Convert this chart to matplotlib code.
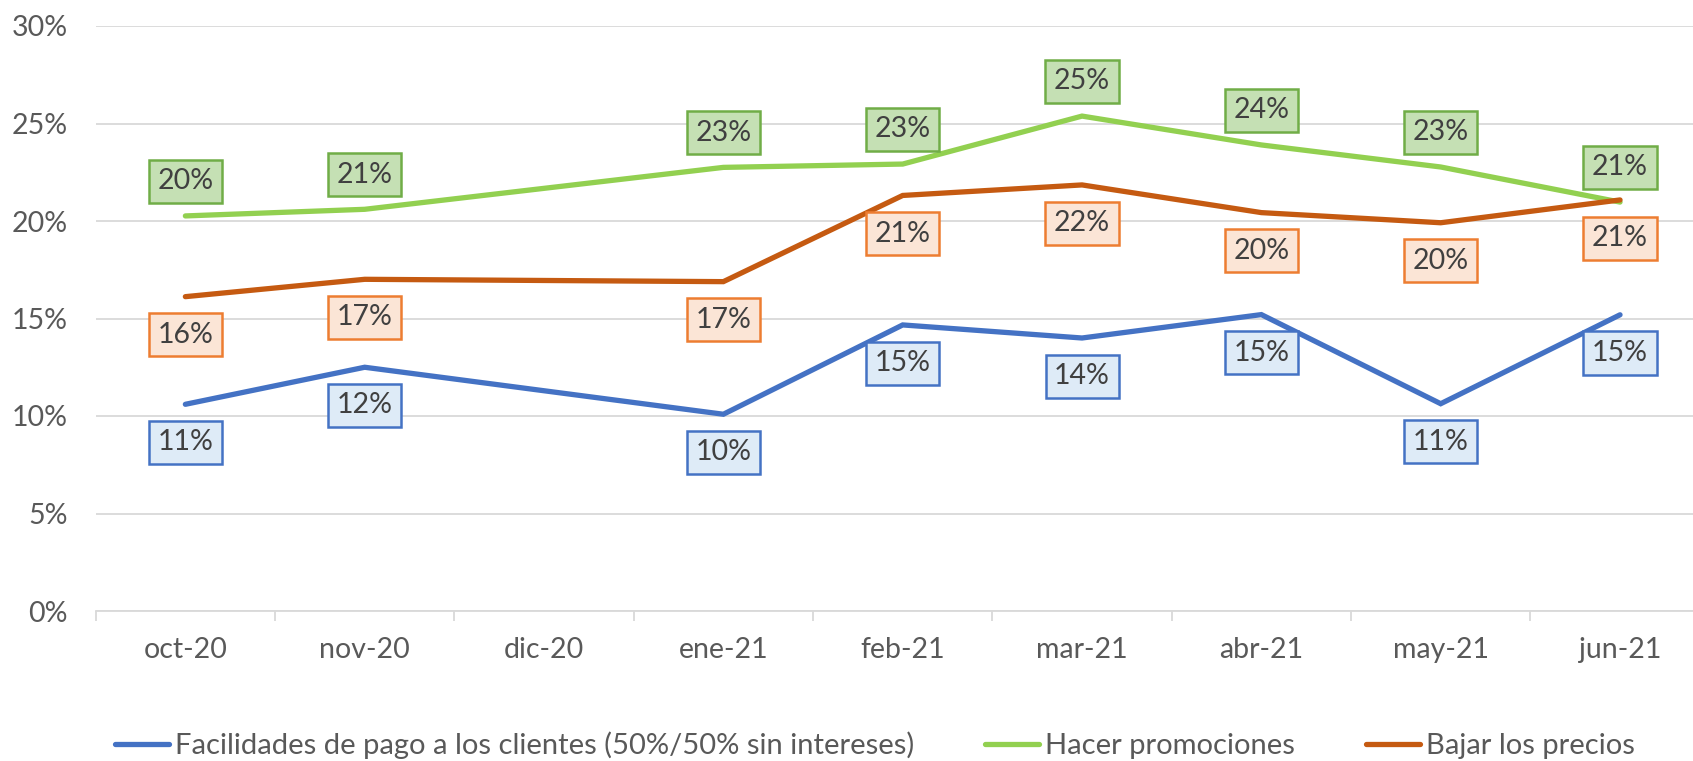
import numpy as np
import matplotlib
matplotlib.use("Agg")
import matplotlib.pyplot as plt
from matplotlib.ticker import FixedLocator, PercentFormatter

plt.rcParams['font.family'] = ['Lato', 'DejaVu Sans']

categories = ["oct-20", "nov-20", "dic-20", "ene-21", "feb-21", "mar-21", "abr-21", "may-21", "jun-21"]
facilidades = [10.6, 12.5, np.nan, 10.09, 14.67, 14.0, 15.2, 10.63, 15.19]
promociones = [20.26, 20.6, np.nan, 22.75, 22.92, 25.38, 23.9, 22.77, 20.97]
bajar_precios = [16.12, 17.01, np.nan, 16.89, 21.31, 21.85, 20.43, 19.91, 21.08]

series_names = ["Facilidades de pago a los clientes (50%/50% sin intereses)",
                "Hacer promociones", "Bajar los precios"]

W, H = 1693, 761
fig = plt.figure(figsize=(W / 100, H / 100), dpi=100)
ax = fig.add_axes([95.7 / W, (H - 611) / H, 1614 / W, 585 / H])

FS = 20.5
line_colors = ["#4472C4", "#92D050", "#C55A11"]
box_fc = ["#DEEBF7", "#C5E0B4", "#FBE5D6"]
box_ec = ["#4472C4", "#70AD47", "#ED7D31"]
offsets = [-27.5, 25.0, -27.5]  # points (below / above)
data = [facilidades, promociones, bajar_precios]

x = np.arange(len(categories))
handles = []
for k, (vals, name) in enumerate(zip(data, series_names)):
    y = np.array(vals, dtype=float)
    m = ~np.isnan(y)
    h, = ax.plot(x[m], y[m], color=line_colors[k], lw=3.8, solid_capstyle='round',
                 solid_joinstyle='miter', label=name, zorder=3)
    handles.append(h)
for k, vals in enumerate(data):
    y = np.array(vals, dtype=float)
    for xi, yi in zip(x, y):
        if np.isnan(yi):
            continue
        ax.annotate(f"{int(round(yi))}%", (xi, yi), xytext=(0, offsets[k]),
                    textcoords='offset points', ha='center', va='center',
                    fontsize=FS, color='#404040', zorder=5,
                    bbox=dict(boxstyle='square,pad=0.3', fc=box_fc[k], ec=box_ec[k], lw=1.8))

ax.set_xlim(-0.5, len(categories) - 0.5)
ax.set_ylim(0, 30)
ax.set_yticks(np.arange(0, 31, 5))
ax.yaxis.set_major_formatter(PercentFormatter(decimals=0))
ax.grid(axis='y', color='#D9D9D9', lw=1.3)
ax.set_axisbelow(True)

ax.xaxis.set_major_locator(FixedLocator(np.arange(-0.5, len(categories), 1.0)))
ax.xaxis.set_minor_locator(FixedLocator(x))
ax.set_xticklabels([])
ax.set_xticklabels(categories, minor=True)
ax.tick_params(axis='x', which='major', length=7.5, width=1.3, color='#D9D9D9')
ax.tick_params(axis='x', which='minor', length=0, pad=19, labelsize=FS, labelcolor='#595959')
ax.tick_params(axis='y', length=0, pad=20, labelsize=FS, labelcolor='#595959')

for s in ['top', 'right', 'left']:
    ax.spines[s].set_visible(False)
ax.spines['bottom'].set_color('#D9D9D9')
ax.spines['bottom'].set_linewidth(1.3)

fig.legend(handles=handles, loc='center', bbox_to_anchor=(875 / W, 1 - 745 / H),
           ncol=3, frameon=False, fontsize=21, labelcolor='#595959',
           handlelength=1.85, handletextpad=0.2, columnspacing=2.45)

fig.savefig("out.png", dpi=100)
